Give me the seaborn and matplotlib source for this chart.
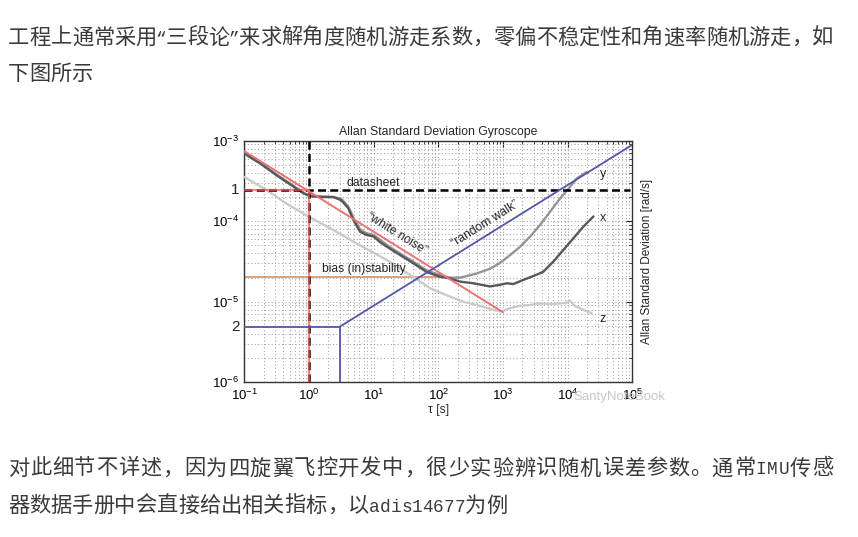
import numpy as np
import pandas as pd
import matplotlib
matplotlib.use("Agg")
import matplotlib.pyplot as plt
import seaborn as sns
from matplotlib.ticker import FixedLocator, LogLocator, NullFormatter

# ---------------- data (log10 values) ----------------
x_logtau = [-1.0, -0.76, -0.5, -0.24, -0.09, 0.02, 0.17, 0.38, 0.5, 0.61, 0.69, 0.79, 0.89, 1.0,
            1.1, 1.25, 1.41, 1.61, 1.82, 2.03, 2.18, 2.34, 2.54, 2.8, 2.95, 3.06, 3.16, 3.31,
            3.47, 3.62, 3.78, 3.93, 4.09, 4.24, 4.4]
x_logsig = [-3.16, -3.28, -3.43, -3.57, -3.65, -3.69, -3.7, -3.7, -3.74, -3.84, -3.99, -4.13,
            -4.17, -4.19, -4.26, -4.34, -4.42, -4.52, -4.63, -4.69, -4.71, -4.75, -4.77, -4.81,
            -4.79, -4.77, -4.78, -4.73, -4.68, -4.63, -4.5, -4.36, -4.21, -4.07, -3.94]

y_logtau = [-1.0, -0.76, -0.5, -0.24, -0.09, 0.02, 0.17, 0.38, 0.5, 0.61, 0.69, 0.79, 0.89, 1.0,
            1.1, 1.25, 1.41, 1.61, 1.82, 2.03, 2.18, 2.34, 2.59, 2.8, 2.95, 3.11, 3.26, 3.42,
            3.57, 3.73, 3.88, 4.04, 4.14, 4.29]
y_logsig = [-3.15, -3.27, -3.42, -3.56, -3.65, -3.68, -3.69, -3.7, -3.72, -3.82, -3.96, -4.1,
            -4.15, -4.17, -4.23, -4.32, -4.4, -4.5, -4.61, -4.67, -4.7, -4.7, -4.65, -4.59,
            -4.52, -4.42, -4.32, -4.19, -4.05, -3.88, -3.72, -3.57, -3.47, -3.39]

z_logtau = [-1.0, -0.66, -0.35, -0.01, 0.38, 0.79, 1.2, 1.61, 1.87, 2.13, 2.39, 2.64, 2.85,
            2.98, 3.11, 3.26, 3.42, 3.57, 3.73, 3.88, 3.99, 4.03, 4.11, 4.24, 4.37]
z_logsig = [-3.45, -3.61, -3.78, -3.94, -4.11, -4.3, -4.48, -4.69, -4.83, -4.92, -5.0, -5.05,
            -5.1, -5.12, -5.08, -5.05, -5.04, -5.02, -5.03, -5.02, -5.01, -4.98, -5.05, -5.1,
            -5.14]

datasheet_level = 2.42e-4      # "1"
rw_level = 4.9e-6              # "2"
bias_level = 2.03e-5
white_tau = [0.1, 1000.0]
white_sig = [7.41e-4, 7.41e-6]
rw_tau = [3.0, 1e5]
rw_sig = [4.9e-6, 8.9e-4]
bias_tau_end = 143.0
ymin, ymax = 1e-6, 1e-3
xmin, xmax = 0.1, 1e5

xtick_vals = [1e-1, 1e0, 1e1, 1e2, 1e3, 1e4, 1e5]
xtick_labels = [r"$10^{-1}$", r"$10^{0}$", r"$10^{1}$", r"$10^{2}$", r"$10^{3}$", r"$10^{4}$", r"$10^{5}$"]
ytick_vals = [1e-6, 1e-5, 1e-4, 1e-3]
ytick_labels = [r"$10^{-6}$", r"$10^{-5}$", r"$10^{-4}$", r"$10^{-3}$"]

para_top = ["工程上通常采用“三段论”来求解角度随机游走系数，零偏不稳定性和角速率随机游走，如",
            "下图所示"]
para_bottom = ["对此细节不详述，因为四旋翼飞控开发中，很少实验辨识随机误差参数。通常IMU传感",
               "器数据手册中会直接给出相关指标，以adis14677为例"]

# ---------------- style ----------------
sns.set_theme(style="white")
plt.rcParams["font.family"] = ["Liberation Sans", "Noto Sans CJK SC", "DejaVu Sans"]
plt.rcParams["mathtext.fontset"] = "custom"
plt.rcParams["mathtext.rm"] = "Liberation Sans"
plt.rcParams["mathtext.it"] = "Liberation Sans:italic"
plt.rcParams["mathtext.bf"] = "Liberation Sans:bold"

fig = plt.figure(figsize=(8.58, 5.37), dpi=100)
W, H = 858, 537
ax = fig.add_axes([244.3 / W, 1 - 382.3 / H, (632.3 - 244.3) / W, (382.3 - 140.7) / H])
ax.set_facecolor("white")

# ---------------- measured curves ----------------
df_x = pd.DataFrame({"tau": np.power(10.0, x_logtau), "sig": np.power(10.0, x_logsig)})
df_y = pd.DataFrame({"tau": np.power(10.0, y_logtau), "sig": np.power(10.0, y_logsig)})
df_z = pd.DataFrame({"tau": np.power(10.0, z_logtau), "sig": np.power(10.0, z_logsig)})

sns.lineplot(data=df_z, x="tau", y="sig", ax=ax, color="#cacaca", lw=1.7, sort=False, estimator=None, zorder=3)
sns.lineplot(data=df_y, x="tau", y="sig", ax=ax, color="#959595", lw=1.7, sort=False, estimator=None, zorder=3)
sns.lineplot(data=df_x, x="tau", y="sig", ax=ax, color="#585858", lw=1.7, sort=False, estimator=None, zorder=3)

# ---------------- reference lines ----------------
dash = (0, (3.2, 1.7))
ax.plot([1, 1], [ymin, ymax], color="black", lw=1.8, linestyle=dash, zorder=4)
ax.plot([xmin, xmax * 0.93], [datasheet_level] * 2, color="black", lw=1.8, linestyle=dash, zorder=4)

ax.plot([xmin, 1], [datasheet_level] * 2, color="#f05a5a", lw=1.6, alpha=0.7, zorder=5)
ax.plot([1, 1], [ymin, datasheet_level], color="#f05a5a", lw=1.6, alpha=0.7, zorder=5)
ax.plot(white_tau, white_sig, color="#f07070", lw=1.4, zorder=5)

ax.plot([xmin, bias_tau_end], [bias_level] * 2, color="#dc9a72", lw=1.3, zorder=2.5)

ax.plot([xmin, rw_tau[0]], [rw_level] * 2, color="#5555b0", lw=1.3, zorder=5)
ax.plot([rw_tau[0]] * 2, [ymin, rw_level], color="#5555b0", lw=1.3, zorder=5)
ax.plot(rw_tau, rw_sig, color="#5555b0", lw=1.3, zorder=5)

# ---------------- scales, ticks, grid ----------------
ax.set_xscale("log")
ax.set_yscale("log")
ax.set_xlim(xmin, xmax)
ax.set_ylim(ymin, ymax)

ax.xaxis.set_major_locator(FixedLocator(xtick_vals))
ax.set_xticklabels(xtick_labels)
ax.xaxis.set_minor_locator(LogLocator(base=10, subs=np.arange(2, 10)))
ax.xaxis.set_minor_formatter(NullFormatter())
ax.yaxis.set_major_locator(FixedLocator(ytick_vals))
ax.set_yticklabels(ytick_labels)
ax.yaxis.set_minor_locator(LogLocator(base=10, subs=np.arange(2, 10)))
ax.yaxis.set_minor_formatter(NullFormatter())

ax.tick_params(which="both", direction="in", top=True, right=True, colors="#222222",
               labelcolor="black", labelsize=9.5)
ax.tick_params(which="major", length=4, width=0.8, pad=4)
ax.tick_params(which="minor", length=2, width=0.6)
ax.grid(True, which="both", linestyle=(0, (1, 2.5)), color="#9a9a9a", linewidth=0.7)
for s in ax.spines.values():
    s.set_color("#333333")
    s.set_linewidth(1.0)
    s.set_visible(True)

# extra y labels "1" and "2"
ax.text(-0.012, datasheet_level, "1", transform=ax.get_yaxis_transform(), ha="right", va="center", fontsize=11)
ax.text(-0.012, rw_level, "2", transform=ax.get_yaxis_transform(), ha="right", va="center", fontsize=11)

ax.set_title("Allan Standard Deviation Gyroscope", fontsize=8.8, pad=4)
ax.set_xlabel("τ [s]", fontsize=8.7, labelpad=1)
ax.set_ylabel("Allan Standard Deviation [rad/s]", fontsize=8.5)
ax.yaxis.set_label_coords(1 + (653 - 632.3) / 388.0, 0.5)

# annotations
fs = 8.7
ax.text(10 ** 1.0, 10 ** -3.52, "datasheet", ha="center", va="center", fontsize=fs)
ax.text(10 ** 1.36, 10 ** -4.16, "“white noise”", ha="center", va="center", fontsize=fs, rotation=-32)
ax.text(10 ** 2.73, 10 ** -4.035, "“random walk”", ha="center", va="center", fontsize=fs, rotation=32)
ax.text(10 ** 0.85, 10 ** -4.59, "bias (in)stability", ha="center", va="center", fontsize=fs)
ax.text(10 ** 4.5, 10 ** -3.41, "y", ha="left", va="center", fontsize=9)
ax.text(10 ** 4.5, 10 ** -3.96, "x", ha="left", va="center", fontsize=9)
ax.text(10 ** 4.5, 10 ** -5.22, "z", ha="left", va="center", fontsize=9)

# watermark
fig.text(573 / W, 1 - 397 / H, "SantyNoteBook", color="#c8c8c8", fontsize=9.5, ha="left", va="center", zorder=10)

# ---------------- article text (browser-like justified lines) ----------------
cjk = ["Noto Sans CJK SC", "DejaVu Sans"]
mono = ["Liberation Mono", "DejaVu Sans Mono"]
tc = "#3a3a3a"
CJK_PT = 15.3
EM = CJK_PT * 100 / 72.0          # px per full-width cell
HALF_PT = CJK_PT / 1.2            # mono at this size -> half-width cell


def advance(ch):
    if ch in "“”":
        return 0.42 * EM
    if ord(ch) < 128:
        return 0.5 * EM
    return EM


def draw_line(s, baseline_px, x0=8.0, right_px=None):
    adv = [advance(c) for c in s]
    natural = sum(adv)
    extra = 0.0
    if right_px is not None and len(s) > 1:
        extra = max(0.0, (right_px - x0 - natural) / (len(s) - 1))
    x = x0
    yb = 1 - baseline_px / H
    for c, a in zip(s, adv):
        if ord(c) < 128 or c in "“”":
            fig.text((x + a / 2) / W, yb, c, family=mono, fontsize=HALF_PT, color=tc,
                     ha="center", va="baseline")
        elif c in "，。、":
            fig.text(x / W, yb, c, family=cjk, fontsize=CJK_PT, color=tc,
                     ha="left", va="baseline")
        else:
            fig.text((x + a / 2) / W, yb, c, family=cjk, fontsize=CJK_PT, color=tc,
                     ha="center", va="baseline")
        x += a + extra


draw_line(para_top[0], 43.5, right_px=833)
draw_line(para_top[1], 80.0)
draw_line(para_bottom[0], 474.5, right_px=833)
draw_line(para_bottom[1], 511.5)

fig.savefig("out.png", dpi=100, facecolor="white")
